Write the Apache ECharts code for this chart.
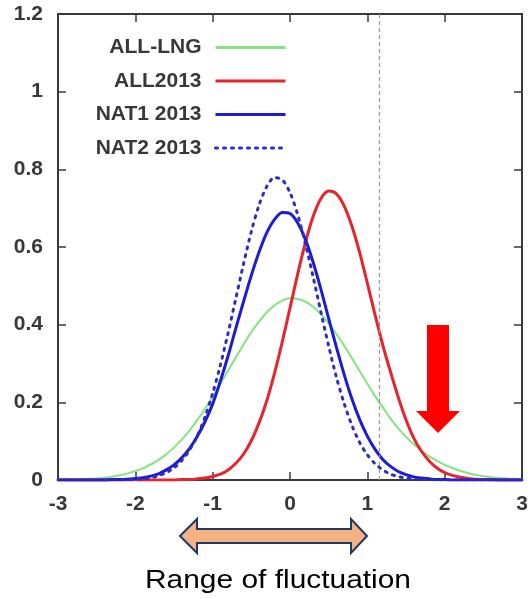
<!DOCTYPE html>
<html>
<head>
<meta charset="utf-8">
<script src="https://cdn.jsdelivr.net/npm/echarts@6/dist/echarts.min.js"></script>
<style>
  html, body { margin: 0; padding: 0; background: #fff; }
  #chart { width: 532px; height: 599px; }
</style>
</head>
<body>
<div id="chart"></div>
<script>
// Sample positions along the horizontal axis (step 0.1)
const xs = [-3, -2.9, -2.8, -2.7, -2.6, -2.5, -2.4, -2.3, -2.2, -2.1,
            -2, -1.9, -1.8, -1.7, -1.6, -1.5, -1.4, -1.3, -1.2, -1.1,
            -1, -0.9, -0.8, -0.7, -0.6, -0.5, -0.4, -0.3, -0.2, -0.1,
            0, 0.1, 0.2, 0.3, 0.4, 0.5, 0.6, 0.7, 0.8, 0.9,
            1, 1.1, 1.2, 1.3, 1.4, 1.5, 1.6, 1.7, 1.8, 1.9,
            2, 2.1, 2.2, 2.3, 2.4, 2.5, 2.6, 2.7, 2.8, 2.9, 3];

// Distribution curves, one value per sample position
const allLng = [0.001, 0.001, 0.001, 0.002, 0.003, 0.004, 0.006, 0.009, 0.012, 0.017,
                0.023, 0.030, 0.040, 0.052, 0.066, 0.084, 0.104, 0.127, 0.154, 0.183,
                0.214, 0.248, 0.282, 0.316, 0.349, 0.381, 0.408, 0.432, 0.450, 0.462,
                0.468, 0.466, 0.459, 0.446, 0.427, 0.403, 0.376, 0.346, 0.314, 0.281,
                0.248, 0.216, 0.187, 0.158, 0.133, 0.111, 0.092, 0.076, 0.061, 0.049,
                0.039, 0.031, 0.024, 0.018, 0.013, 0.010, 0.007, 0.005, 0.004, 0.003, 0.002];
const all2013 = [0, 0, 0, 0, 0, 0, 0, 0, 0, 0,
                 0, 0, 0, 0, 0, 0, 0.001, 0.001, 0.003, 0.005,
                 0.009, 0.015, 0.026, 0.043, 0.067, 0.101, 0.147, 0.204, 0.275, 0.356,
                 0.443, 0.531, 0.612, 0.679, 0.725, 0.744, 0.737, 0.706, 0.654, 0.586,
                 0.507, 0.425, 0.347, 0.278, 0.213, 0.155, 0.108, 0.074, 0.049, 0.031,
                 0.019, 0.012, 0.007, 0.004, 0.002, 0.001, 0.001, 0, 0, 0, 0];
const nat1 = [0, 0, 0, 0, 0, 0, 0, 0.001, 0.001, 0.002,
              0.004, 0.006, 0.010, 0.016, 0.026, 0.039, 0.057, 0.081, 0.112, 0.150,
              0.196, 0.255, 0.320, 0.391, 0.460, 0.527, 0.587, 0.637, 0.671, 0.689,
              0.686, 0.662, 0.619, 0.560, 0.491, 0.416, 0.342, 0.272, 0.209, 0.156,
              0.113, 0.079, 0.053, 0.035, 0.022, 0.014, 0.008, 0.005, 0.003, 0.001,
              0.001, 0, 0, 0, 0, 0, 0, 0, 0, 0, 0];
const nat2 = [0, 0, 0, 0, 0, 0, 0, 0, 0, 0.001,
              0.002, 0.003, 0.006, 0.011, 0.019, 0.031, 0.050, 0.077, 0.113, 0.162,
              0.223, 0.296, 0.379, 0.468, 0.557, 0.640, 0.708, 0.756, 0.779, 0.773,
              0.740, 0.683, 0.608, 0.522, 0.432, 0.345, 0.265, 0.197, 0.141, 0.097,
              0.065, 0.042, 0.026, 0.015, 0.009, 0.005, 0.003, 0.001, 0.001, 0,
              0, 0, 0, 0, 0, 0, 0, 0, 0, 0, 0];

const seriesNames = ['ALL-LNG', 'ALL2013', 'NAT1 2013', 'NAT2 2013'];
const thresholdX = 1.15;

const pairs = vals => xs.map((x, i) => [x, vals[i]]);
const FONT = 'Liberation Sans, Arial, sans-serif';

const chart = echarts.init(document.getElementById('chart'), null, { renderer: 'canvas' });

const frameLine = { show: true, onZero: false, lineStyle: { color: '#3a3a3a', width: 2 } };
const innerTick = { show: true, inside: true, length: 8, lineStyle: { color: '#3a3a3a', width: 1.5 } };
const tickFont = { fontSize: 21, fontWeight: 'bold', color: '#383838', fontFamily: FONT };

chart.setOption({
  animation: false,
  backgroundColor: '#fff',
  grid: { left: 58, right: 10, top: 14, bottom: 119 },
  xAxis: [
    {
      type: 'value', min: -3, max: 3, interval: 1, position: 'bottom',
      axisLine: frameLine, axisTick: innerTick, splitLine: { show: false },
      axisLabel: Object.assign({ margin: 14 }, tickFont)
    },
    {
      type: 'value', min: -3, max: 3, interval: 1, position: 'top',
      axisLine: frameLine, axisTick: innerTick, splitLine: { show: false },
      axisLabel: { show: false }
    }
  ],
  yAxis: [
    {
      type: 'value', min: 0, max: 1.2, interval: 0.2, position: 'left',
      axisLine: frameLine, axisTick: innerTick, splitLine: { show: false },
      axisLabel: Object.assign({ margin: 15 }, tickFont)
    },
    {
      type: 'value', min: 0, max: 1.2, interval: 0.2, position: 'right',
      axisLine: frameLine, axisTick: innerTick, splitLine: { show: false },
      axisLabel: { show: false }
    }
  ],
  legend: {
    orient: 'vertical', align: 'right', right: 245, top: 37, padding: 0,
    itemWidth: 70, itemHeight: 20, itemGap: 12.5,
    itemStyle: { opacity: 0 },
    lineStyle: { width: 3 },
    textStyle: { fontSize: 21, fontWeight: 'bold', color: '#383838', fontFamily: FONT, padding: [0, 9, 0, 0] },
    data: seriesNames
  },
  series: [
    {
      name: seriesNames[0], type: 'line', data: pairs(allLng), smooth: 0.3,
      symbol: 'none', lineStyle: { color: '#82e482', width: 2 }, itemStyle: { color: '#82e482' },
      markLine: {
        silent: true, symbol: 'none', label: { show: false },
        lineStyle: { color: '#999', width: 1.2, type: [4, 3] },
        data: [{ xAxis: thresholdX }]
      }
    },
    {
      name: seriesNames[1], type: 'line', data: pairs(all2013), smooth: 0.3,
      symbol: 'none', lineStyle: { color: '#e8232a', width: 3 }, itemStyle: { color: '#e8232a' }
    },
    {
      name: seriesNames[2], type: 'line', data: pairs(nat1), smooth: 0.3,
      symbol: 'none', lineStyle: { color: '#1c1cd8', width: 3 }, itemStyle: { color: '#1c1cd8' }
    },
    {
      name: seriesNames[3], type: 'line', data: pairs(nat2), smooth: 0.3,
      symbol: 'none', lineStyle: { color: '#2c2cc4', width: 3, type: [2, 6], cap: 'round' },
      itemStyle: { color: '#2c2cc4' }
    }
  ],
  graphic: [
    // downward red arrow
    {
      type: 'polygon', z: 10,
      shape: { points: [[427, 325], [449, 325], [449, 411], [460, 411], [438, 433], [416, 411], [427, 411]] },
      style: { fill: '#ff0000' }
    },
    // double-headed arrow under the axis
    {
      type: 'polygon', z: 10,
      shape: { points: [[180, 536], [197, 519], [197, 529], [351, 529], [351, 519], [367, 536],
                        [351, 553], [351, 543], [197, 543], [197, 553]] },
      style: { fill: '#f4b183', stroke: '#1f3864', lineWidth: 2 }
    },
    {
      type: 'text', z: 10, x: 278, y: 581, scaleX: 1.15,
      style: { text: 'Range of fluctuation', x: 0, y: 0, align: 'center', verticalAlign: 'middle',
               fontSize: 26, fontFamily: FONT, fill: '#000' }
    }
  ]
});
</script>
</body>
</html>
